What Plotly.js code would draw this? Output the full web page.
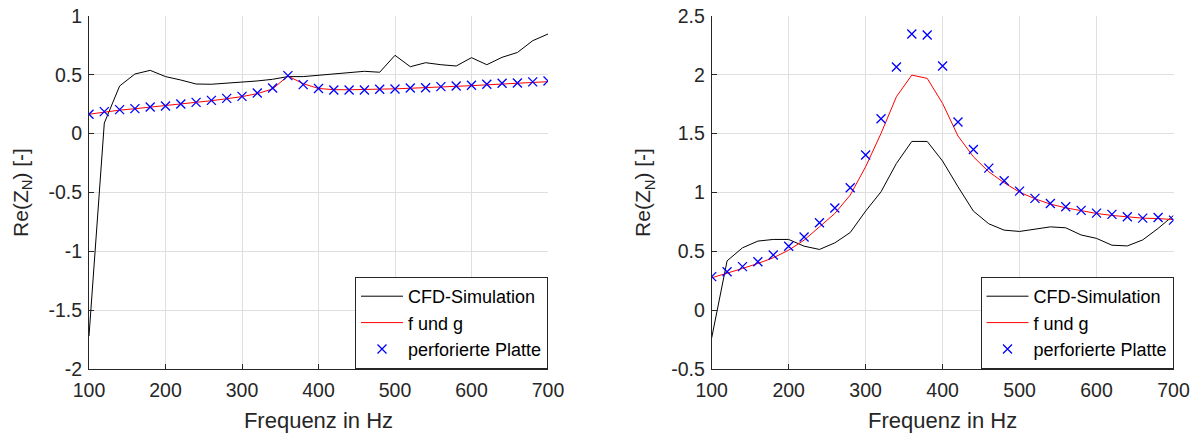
<!DOCTYPE html>
<html>
<head>
<meta charset="utf-8">
<script src="https://cdn.plot.ly/plotly-3.0.1.min.js"></script>
<style>html,body{margin:0;padding:0;background:#fff;}#chart{width:1195px;height:435px;}</style>
</head>
<body>
<div id="chart"></div>
<script>
const freq = [100,120,140,160,180,200,220,240,260,280,300,320,340,360,380,400,420,440,460,480,500,520,540,560,580,600,620,640,660,680,700];

const cfdLeft = [-1.72,0.09,0.405,0.507,0.538,0.485,0.456,0.422,0.42,0.428,0.437,0.448,0.462,0.485,0.485,0.495,0.505,0.518,0.53,0.522,0.666,0.569,0.603,0.586,0.575,0.646,0.586,0.649,0.69,0.79,0.847];
const fgLeft = [0.165,0.185,0.2,0.212,0.225,0.236,0.25,0.264,0.28,0.297,0.315,0.34,0.38,0.49,0.425,0.384,0.374,0.373,0.374,0.377,0.381,0.386,0.39,0.396,0.402,0.408,0.415,0.422,0.428,0.435,0.442];
const plateLeft = [0.165,0.187,0.204,0.213,0.227,0.235,0.252,0.266,0.283,0.30,0.317,0.345,0.388,0.493,0.417,0.384,0.371,0.371,0.371,0.377,0.38,0.388,0.39,0.40,0.405,0.411,0.42,0.428,0.43,0.44,0.448];

const cfdRight = [-0.235,0.419,0.53,0.587,0.601,0.601,0.544,0.516,0.572,0.66,0.842,1.006,1.247,1.434,1.434,1.267,1.049,0.842,0.734,0.68,0.669,0.69,0.708,0.70,0.639,0.61,0.552,0.546,0.597,0.695,0.805];
const fgRight = [0.275,0.312,0.354,0.397,0.445,0.51,0.595,0.708,0.822,0.978,1.219,1.502,1.814,1.998,1.97,1.757,1.48,1.304,1.176,1.083,1.003,0.947,0.901,0.87,0.845,0.822,0.805,0.794,0.782,0.778,0.77];
const plateRight = [0.285,0.327,0.37,0.412,0.469,0.543,0.622,0.743,0.868,1.041,1.319,1.627,2.066,2.347,2.338,2.075,1.599,1.366,1.207,1.10,1.012,0.95,0.907,0.879,0.848,0.825,0.814,0.794,0.782,0.788,0.765];

const seriesNames = ["CFD-Simulation", "f und g", "perforierte Platte"];
const xTickVals = [100,200,300,400,500,600,700];
const xTickText = ["100","200","300","400","500","600","700"];
const yLeftVals = [-2,-1.5,-1,-0.5,0,0.5,1];
const yLeftText = ["-2","-1.5","-1","-0.5","0","0.5","1"];
const yRightVals = [-0.5,0,0.5,1,1.5,2,2.5];
const yRightText = ["-0.5","0","0.5","1","1.5","2","2.5"];
const xTitle = "Frequenz in Hz";
const yTitle = "Re(Z<sub>N</sub>) [-]";

const FONT = "Arial, 'Liberation Sans', sans-serif";
const TXT = "#262626";

function series(y, xa, ya, lg) {
  return [
    {x: freq, y: y[0], xaxis: xa, yaxis: ya, legend: lg, name: seriesNames[0], type: "scatter", mode: "lines",
     line: {color: "#000000", width: 1}},
    {x: freq, y: y[1], xaxis: xa, yaxis: ya, legend: lg, name: seriesNames[1], type: "scatter", mode: "lines",
     line: {color: "#ff0000", width: 1}},
    {x: freq, y: y[2], xaxis: xa, yaxis: ya, legend: lg, name: seriesNames[2], type: "scatter", mode: "markers",
     marker: {symbol: "x-thin", size: 9, color: "#0000ff", line: {color: "#0000ff", width: 1.3}}}
  ];
}

const data = [].concat(
  series([cfdLeft, fgLeft, plateLeft], "x", "y", "legend"),
  series([cfdRight, fgRight, plateRight], "x2", "y2", "legend2")
);

function xax(dom, anchor) {
  return {
    domain: dom, anchor: anchor, range: [100, 700], tickvals: xTickVals, ticktext: xTickText,
    showgrid: true, gridcolor: "#dfdfdf", gridwidth: 1, zeroline: false,
    showline: true, linecolor: "#262626", linewidth: 1, mirror: false,
    ticks: "inside", ticklen: 5, tickcolor: "#262626", ticklabelstandoff: 4,
    tickfont: {family: FONT, size: 19.5, color: TXT},
    title: {text: xTitle, font: {family: FONT, size: 22, color: TXT}, standoff: 12}
  };
}
function yax(dom, anchor, vals, text, rng) {
  return {
    domain: dom, anchor: anchor, range: rng, tickvals: vals, ticktext: text,
    showgrid: true, gridcolor: "#dfdfdf", gridwidth: 1, zeroline: false,
    showline: true, linecolor: "#262626", linewidth: 1, mirror: false,
    ticks: "inside", ticklen: 5, tickcolor: "#262626", ticklabelstandoff: 2,
    tickfont: {family: FONT, size: 19.5, color: TXT},
    title: {text: yTitle, font: {family: FONT, size: 21, color: TXT}, standoff: 14}
  };
}

const yDom = [66/435, 419/435];
function leg(xr) {
  return {
    x: xr, y: 66/435, xanchor: "right", yanchor: "bottom", xref: "paper", yref: "paper",
    bgcolor: "#ffffff", bordercolor: "#262626", borderwidth: 1,
    font: {family: FONT, size: 18, color: "#000000"}, itemwidth: 42, tracegroupgap: 0
  };
}

const layout = {
  width: 1195, height: 435,
  margin: {l: 0, r: 0, t: 0, b: 0},
  paper_bgcolor: "#ffffff", plot_bgcolor: "#ffffff",
  showlegend: true,
  xaxis: xax([89/1195, 548/1195], "y"),
  yaxis: yax(yDom, "x", yLeftVals, yLeftText, [-2, 1]),
  xaxis2: xax([711.7/1195, 1173.5/1195], "y2"),
  yaxis2: yax(yDom, "x2", yRightVals, yRightText, [-0.5, 2.5]),
  legend: leg(548/1195),
  legend2: leg(1173.5/1195)
};

Plotly.newPlot("chart", data, layout, {displayModeBar: false, staticPlot: true});
</script>
</body>
</html>
